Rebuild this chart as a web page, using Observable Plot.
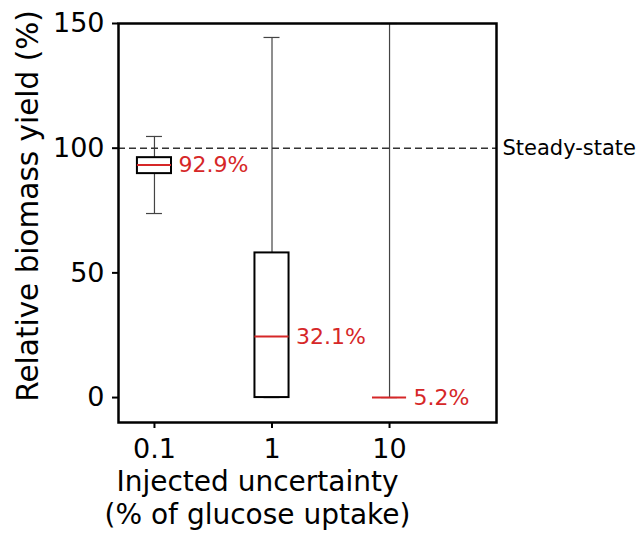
<!DOCTYPE html>
<html>
<head>
<meta charset="utf-8">
<script src="https://cdn.jsdelivr.net/npm/d3@7"></script>
<script src="https://cdn.jsdelivr.net/npm/@observablehq/plot@0.6"></script>
<style>
  html, body { margin: 0; padding: 0; background: #fff; }
  #chart svg { display: block; }
</style>
</head>
<body>
<div id="chart"></div>
<script>
// Data
const categories = ["0.1", "1", "10"];
const positions = [0, 1, 2];
const whiskerLow = [73.8, 0, 0];
const q1 = [89.8, 0, 0];
const median = [93.3, 24.5, 0];
const q3 = [96.2, 58.0, 0];
const whiskerHigh = [104.7, 144.4, 150];
const medianLabels = ["92.9%", "32.1%", "5.2%"];
const yTicks = [0, 50, 100, 150];
const steadyState = 100;
const steadyLabel = "Steady-state";
const xTitle = "Injected uncertainty\n(% of glucose uptake)";
const yTitle = "Relative biomass yield (%)";

const rows = categories.map((c, i) => ({
  cat: c, pos: positions[i], lo: whiskerLow[i], q1: q1[i], med: median[i],
  q3: q3[i], hi: whiskerHigh[i], label: medianLabels[i]
}));

const boxHalf = 0.145;
const capHalf = 0.068;
const red = "#d62728";
const font = "DejaVu Sans";

const chart = Plot.plot({
  width: 642,
  height: 533,
  marginLeft: 118,
  marginRight: 146,
  marginTop: 23,
  marginBottom: 111,
  style: { fontFamily: font, color: "black", background: "white", overflow: "visible" },
  x: { type: "linear", domain: [-0.306, 2.91] },
  y: { domain: [-10, 150] },
  marks: [
    // whiskers
    Plot.ruleX(rows, { x: "pos", y1: "lo", y2: "q1", stroke: "#444", strokeWidth: 1.2 }),
    Plot.ruleX(rows, { x: "pos", y1: "q3", y2: "hi", stroke: "#444", strokeWidth: 1.2 }),
    // caps
    Plot.ruleY(rows, { y: "hi", x1: d => d.pos - capHalf, x2: d => d.pos + capHalf, stroke: "#444", strokeWidth: 1.2 }),
    Plot.ruleY(rows, { y: "lo", x1: d => d.pos - capHalf, x2: d => d.pos + capHalf, stroke: "#444", strokeWidth: 1.2 }),
    // boxes
    Plot.rect(rows, { x1: d => d.pos - boxHalf, x2: d => d.pos + boxHalf, y1: "q1", y2: "q3", fill: "none", stroke: "black", strokeWidth: 2 }),
    // steady-state line
    Plot.ruleY([steadyState], { stroke: "#333", strokeWidth: 1.5, strokeDasharray: "7,4" }),
    // medians
    Plot.ruleY(rows, { y: "med", x1: d => d.pos - boxHalf, x2: d => d.pos + boxHalf, stroke: red, strokeWidth: 2 }),
    Plot.text(rows, { x: "pos", y: "med", text: "label", dx: 24, textAnchor: "start", lineAnchor: "middle", fill: red, fontSize: 22 }),
    Plot.text([steadyLabel], { frameAnchor: "right", y: [steadyState], dx: 6, textAnchor: "start", lineAnchor: "middle", fill: "black", fontSize: 21 }),
    // axes
    Plot.axisY({ ticks: yTicks, tickSize: 6, tickPadding: 8, fontSize: 27, label: null, strokeWidth: 2 }),
    Plot.axisX({ ticks: positions, tickFormat: i => categories[i], tickSize: 6, tickPadding: 10, fontSize: 27, label: null, strokeWidth: 2 }),
    Plot.frame({ stroke: "black", strokeWidth: 2.5 }),
    // axis titles
    Plot.text([xTitle], { frameAnchor: "bottom", dx: -50, dy: 46, textAnchor: "middle", lineAnchor: "top", lineHeight: 1.15, fontSize: 28, fill: "black" }),
    Plot.text([yTitle], { frameAnchor: "left", rotate: -90, dx: -90, dy: -17, textAnchor: "middle", lineAnchor: "middle", fontSize: 29.5, fill: "black" })
  ]
});

document.getElementById("chart").appendChild(chart);
</script>
</body>
</html>
